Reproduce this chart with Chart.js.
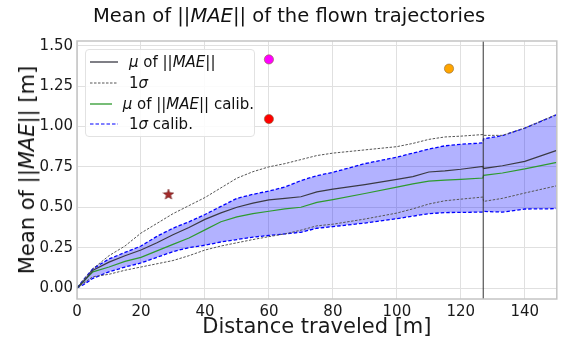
<!DOCTYPE html>
<html lang="en">
<head>
<meta charset="UTF-8">
<title>Mean of ||MAE|| of the flown trajectories</title>
<script src="https://cdn.jsdelivr.net/npm/chart.js"></script>
<style>
    body { margin: 0; background: #ffffff; font-family: 'DejaVu Sans', sans-serif; color: #111; }
    #wrap { position: relative; width: 562px; height: 339px; }
    #title {
        position: absolute; top: 4px; left: 0; width: 578px;
        text-align: center; font-size: 19.5px; line-height: 24px; white-space: nowrap;
    }
    #ytitle {
        position: absolute; left: 27px; top: 170px;
        transform: translate(-50%, -50%) rotate(-90deg);
        font-size: 21px; line-height: 24px; white-space: nowrap;
    }
    #legend {
        position: absolute; left: 85px; top: 49px; width: 170px; height: 88px;
        box-sizing: border-box; padding-top: 2px;
        border: 1px solid #e2e2e2; border-radius: 4px;
        background: rgba(255, 255, 255, 0.85); font-size: 15px;
    }
    .row { height: 20.7px; display: flex; align-items: center; white-space: nowrap; }
    .row svg { margin-left: 4px; margin-right: 11px; }
</style>
</head>
<body>
<div id="wrap">
    <canvas id="maeChart" width="562" height="339" style="width:562px;height:339px;"></canvas>
    <div id="title">Mean of ||<i>MAE</i>|| of the flown trajectories</div>
    <div id="ytitle">Mean of ||<i>MAE</i>|| [m]</div>
    <div id="legend">
        <div class="row"><svg width="28" height="10"><line x1="0" y1="5" x2="28" y2="5" stroke="#3a3a44" stroke-width="1.3"/></svg><span><i>μ</i> of ||<i>MAE</i>||</span></div>
        <div class="row"><svg width="28" height="10"><line x1="0" y1="5" x2="28" y2="5" stroke="#555" stroke-width="1" stroke-dasharray="2.5 1.5"/></svg><span>1<i>σ</i></span></div>
        <div class="row"><svg width="28" height="10"><line x1="0" y1="5" x2="28" y2="5" stroke="#2e9a2e" stroke-width="1.3"/></svg><span><i>μ</i> of ||<i>MAE</i>|| calib.</span></div>
        <div class="row"><svg width="28" height="10"><line x1="0" y1="5" x2="28" y2="5" stroke="#0000ff" stroke-width="1.2" stroke-dasharray="3.5 2"/></svg><span>1<i>σ</i> calib.</span></div>
    </div>
</div>

<script>
    // distance traveled [m]
    const dist   = [0, 2, 5, 10, 15, 20, 25, 30, 35, 40, 45, 50, 55, 60, 65, 70, 75, 80, 90, 100, 105, 110, 115, 120, 126.9, 127.1, 133, 140, 150];
    const muMae  = [0, 0.04, 0.11, 0.16, 0.20, 0.235, 0.28, 0.33, 0.375, 0.425, 0.465, 0.50, 0.525, 0.545, 0.555, 0.565, 0.595, 0.612, 0.64, 0.672, 0.69, 0.718, 0.725, 0.735, 0.752, 0.74, 0.757, 0.784, 0.852];
    const sigUp  = [0, 0.05, 0.12, 0.20, 0.26, 0.34, 0.40, 0.46, 0.51, 0.56, 0.62, 0.68, 0.72, 0.75, 0.77, 0.795, 0.82, 0.835, 0.855, 0.875, 0.895, 0.92, 0.935, 0.94, 0.95, 0.945, 0.945, 0.99, 1.075];
    const sigLo  = [0, 0.03, 0.07, 0.085, 0.11, 0.13, 0.15, 0.17, 0.20, 0.235, 0.26, 0.28, 0.30, 0.318, 0.335, 0.358, 0.385, 0.395, 0.427, 0.464, 0.49, 0.52, 0.54, 0.55, 0.563, 0.536, 0.555, 0.588, 0.633];
    const muCal  = [0, 0.04, 0.10, 0.13, 0.165, 0.19, 0.23, 0.27, 0.31, 0.36, 0.41, 0.44, 0.46, 0.475, 0.49, 0.50, 0.53, 0.547, 0.585, 0.625, 0.645, 0.662, 0.668, 0.673, 0.681, 0.697, 0.712, 0.737, 0.778];
    const calUp  = [0, 0.05, 0.12, 0.18, 0.22, 0.26, 0.32, 0.37, 0.41, 0.455, 0.505, 0.555, 0.58, 0.60, 0.625, 0.665, 0.695, 0.716, 0.77, 0.81, 0.835, 0.86, 0.88, 0.89, 0.898, 0.924, 0.943, 0.99, 1.073];
    const calLo  = [0, 0.02, 0.06, 0.10, 0.13, 0.155, 0.19, 0.225, 0.25, 0.265, 0.285, 0.30, 0.315, 0.325, 0.335, 0.345, 0.37, 0.38, 0.402, 0.429, 0.445, 0.46, 0.467, 0.468, 0.47, 0.474, 0.47, 0.489, 0.491];

    // single markers
    const dotX = [60, 60, 116.3];
    const dotY = [1.415, 1.046, 1.358];
    const dotColors = ['#ff00ff', '#ff0000', '#ffa500'];
    const starX = [28.6];
    const starY = [0.582];

    const splitX = 127;
    const yMin = -0.068, yMax = 1.529;

    const pts = ys => dist.map((x, i) => ({ x: x, y: ys[i] }));

    function starImage(size, fill, stroke) {
        const c = document.createElement('canvas');
        c.width = size; c.height = size;
        const g = c.getContext('2d');
        const cx = size / 2, cy = size / 2 + 0.6, R = size / 2 - 0.5, r = R * 0.42;
        g.beginPath();
        for (let i = 0; i < 10; i++) {
            const a = -Math.PI / 2 + i * Math.PI / 5;
            const rad = i % 2 === 0 ? R : r;
            g.lineTo(cx + rad * Math.cos(a), cy + rad * Math.sin(a));
        }
        g.closePath();
        g.fillStyle = fill; g.fill();
        g.strokeStyle = stroke; g.lineWidth = 0.6; g.stroke();
        return c;
    }

    const frame = {
        id: 'frame',
        afterDraw(chart) {
            const { ctx, chartArea: a } = chart;
            ctx.save();
            ctx.strokeStyle = '#c4c4c4';
            ctx.lineWidth = 1.5;
            ctx.strokeRect(a.left, a.top, a.right - a.left, a.bottom - a.top);
            ctx.restore();
        }
    };

    const lineStyle = (color, width, dash) => ({
        showLine: true, borderColor: color, borderWidth: width, borderDash: dash || [],
        pointRadius: 0, fill: false, tension: 0
    });

    new Chart(document.getElementById('maeChart').getContext('2d'), {
        type: 'scatter',
        data: {
            datasets: [
                ...dotX.map((x, i) => ({
                    data: [{ x: x, y: dotY[i] }],
                    backgroundColor: dotColors[i], borderColor: '#8a6a40', borderWidth: 0.6,
                    pointRadius: 4.6
                })),
                {
                    data: starX.map((x, i) => ({ x: x, y: starY[i] })),
                    pointStyle: starImage(12, '#a52a2a', '#6b1b1b')
                },
                Object.assign({ data: [{ x: splitX, y: yMin }, { x: splitX, y: yMax }] }, lineStyle('#333333', 1)),
                Object.assign({ data: pts(muMae) }, lineStyle('#3a3a44', 1.2)),
                Object.assign({ data: pts(muCal) }, lineStyle('#2e9a2e', 1.2)),
                Object.assign({ data: pts(sigUp) }, lineStyle('#555555', 1, [2.5, 1.5])),
                Object.assign({ data: pts(sigLo) }, lineStyle('#555555', 1, [2.5, 1.5])),
                Object.assign({ data: pts(calUp) }, lineStyle('#0000ff', 1.3, [3.5, 2])),
                Object.assign({ data: pts(calLo) }, lineStyle('#0000ff', 1.3, [3.5, 2]), {
                    fill: '-1', backgroundColor: 'rgba(0, 0, 255, 0.3)'
                })
            ]
        },
        options: {
            responsive: false,
            animation: false,
            layout: { padding: { top: 41, right: 3, left: 0, bottom: 0 } },
            plugins: {
                legend: { display: false },
                tooltip: { enabled: false },
                filler: { drawTime: 'beforeDatasetsDraw' }
            },
            scales: {
                x: {
                    type: 'linear', min: 0, max: 150,
                    afterFit: s => { s.height = 40; },
                    border: { display: false },
                    grid: { color: '#e0e0e0', drawTicks: false },
                    ticks: {
                        stepSize: 20, includeBounds: false, padding: 4,
                        color: '#1a1a1a', font: { family: 'DejaVu Sans', size: 15 }
                    },
                    title: {
                        display: true, text: 'Distance traveled [m]', color: '#1a1a1a',
                        font: { family: 'DejaVu Sans', size: 21, lineHeight: 1.1 }, padding: { top: 0, bottom: 0 }
                    }
                },
                y: {
                    min: yMin, max: yMax,
                    afterFit: s => { s.width = 77; },
                    border: { display: false },
                    grid: { color: '#e0e0e0', drawTicks: false },
                    ticks: {
                        stepSize: 0.25, includeBounds: false, padding: 4,
                        color: '#1a1a1a', font: { family: 'DejaVu Sans', size: 15 },
                        callback: v => v.toFixed(2)
                    }
                }
            }
        },
        plugins: [frame]
    });
</script>
</body>
</html>
